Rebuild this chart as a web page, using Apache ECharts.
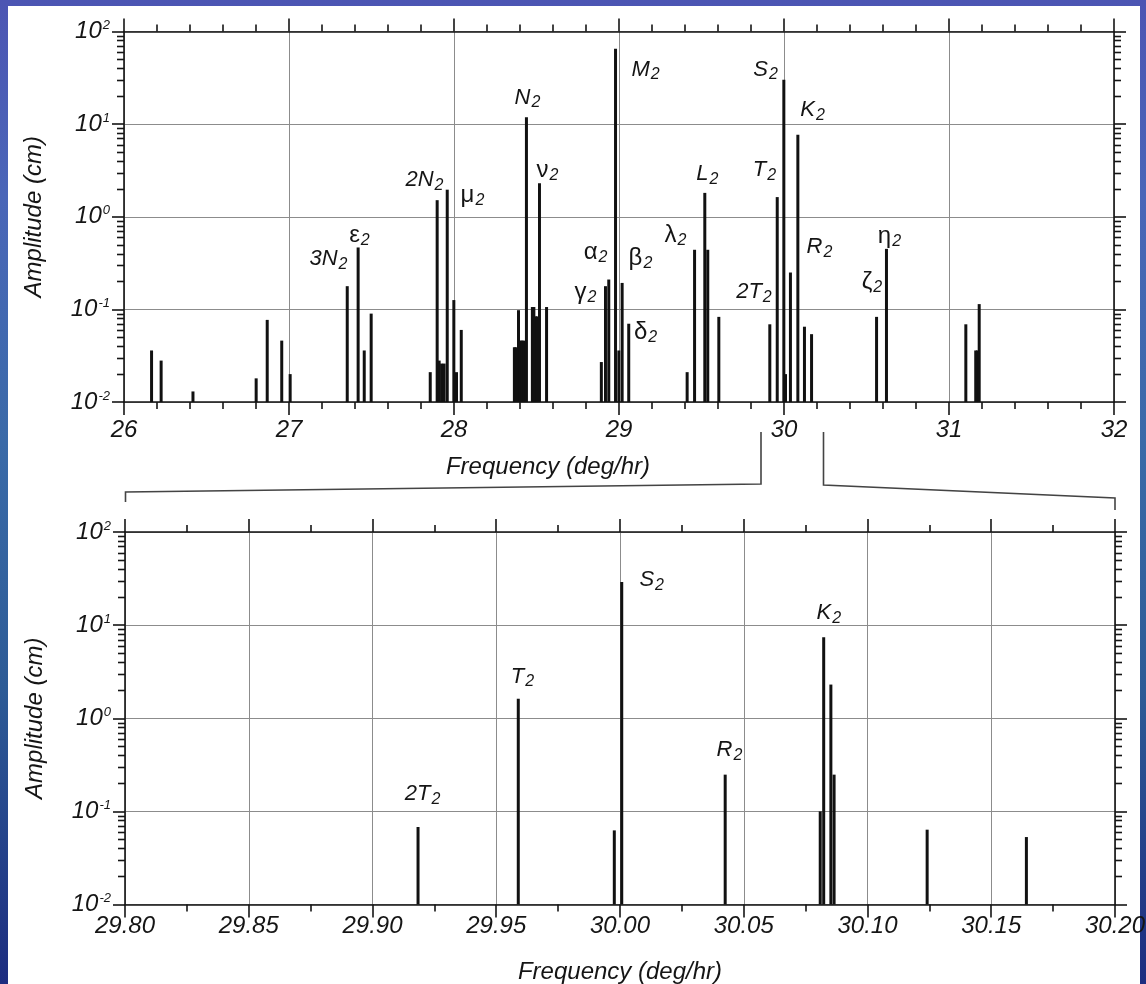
<!DOCTYPE html>
<html>
<head>
<meta charset="utf-8">
<script src="https://cdn.jsdelivr.net/npm/echarts@6/dist/echarts.min.js"></script>
<style>
html,body{margin:0;padding:0;width:1146px;height:984px;overflow:hidden;}
body{background:linear-gradient(180deg,#4c55b3 0%,#4a66b8 20%,#3a6aa8 45%,#2d5b96 70%,#1d2d80 100%);}
#panel{position:absolute;left:8px;top:6px;width:1132px;height:978px;background:#ffffff;}
#chart{position:absolute;left:0;top:0;width:1146px;height:984px;}
</style>
</head>
<body>
<div id="panel"></div>
<div id="chart"></div>
<script>
// ---------- data ----------
const topFreq = [26.167, 26.225, 26.418, 26.801, 26.868, 26.956, 27.007,
  27.353, 27.419, 27.456, 27.498, 27.856, 27.898, 27.910, 27.925, 27.940, 27.959, 27.999, 28.015, 28.044,
  28.366, 28.375, 28.391, 28.402, 28.412, 28.422, 28.439, 28.475, 28.484, 28.494, 28.504, 28.518, 28.561,
  28.893, 28.918, 28.938, 28.979, 28.999, 29.019, 29.059,
  29.413, 29.458, 29.520, 29.538, 29.605,
  29.914, 29.959, 29.999, 30.009, 30.039, 30.084, 30.124, 30.167,
  30.561, 30.621, 31.102, 31.162, 31.172, 31.183];
const topAmp = [0.036, 0.028, 0.013, 0.018, 0.077, 0.046, 0.020,
  0.178, 0.466, 0.036, 0.090, 0.021, 1.51, 0.028, 0.026, 0.026, 1.96, 0.126, 0.021, 0.060,
  0.039, 0.039, 0.098, 0.046, 0.046, 0.046, 11.9, 0.106, 0.106, 0.084, 0.084, 2.3, 0.106,
  0.027, 0.178, 0.21, 65, 0.036, 0.193, 0.070,
  0.021, 0.44, 1.81, 0.44, 0.083,
  0.069, 1.63, 30.1, 0.020, 0.25, 7.7, 0.065, 0.054,
  0.083, 0.45, 0.069, 0.036, 0.036, 0.114];

const bottomFreq = [29.9184, 29.9589, 29.9977, 30.0007, 30.0425, 30.0809, 30.0823, 30.0852, 30.0865, 30.1241, 30.1642];
const bottomAmp  = [0.068, 1.62, 0.0625, 29, 0.248, 0.10, 7.43, 2.3, 0.248, 0.0636, 0.053];

const topLabelNames = ['3N2','ε2','2N2','μ2','N2','ν2','α2','γ2','M2','β2','δ2','λ2','L2','2T2','T2','S2','K2','R2','ζ2','η2'];
const topLabelFreq  = [27.239, 27.427, 27.821, 28.112, 28.445, 28.567, 28.858, 28.797, 29.161, 29.130, 29.161, 29.342, 29.536, 29.818, 29.882, 29.888, 30.173, 30.215, 30.533, 30.639];
const topLabelAmp   = [0.348, 0.63, 2.48, 1.71, 19.4, 3.17, 0.414, 0.1535, 38.9, 0.357, 0.0569, 0.63, 2.87, 0.1535, 3.17, 38.9, 14.1, 0.469, 0.197, 0.616];

const bottomLabelNames = ['2T2','T2','S2','R2','K2'];
const bottomLabelFreq  = [29.9202, 29.9606, 30.0128, 30.0442, 30.0844];
const bottomLabelAmp   = [0.155, 2.81, 30.3, 0.461, 13.4];

// log-axis minor tick values (2..9 in each decade)
const logMinorTicks = [0.02,0.03,0.04,0.05,0.06,0.07,0.08,0.09,
  0.2,0.3,0.4,0.5,0.6,0.7,0.8,0.9, 2,3,4,5,6,7,8,9, 20,30,40,50,60,70,80,90];

const yMin = 0.01, yMax = 100;
const topXRange = [26, 32], topXStep = 1;
const bottomXRange = [29.80, 30.20], bottomXStep = 0.05;
const xName = 'Frequency (deg/hr)';
const yName = 'Amplitude (cm)';

// ---------- styling helpers ----------
const FONT = '"Liberation Sans", Arial, sans-serif';
const INK = '#151515';
const GRID = '#8c8c8c';

const yLabelRich = {
  b: {fontSize: 24, fontStyle: 'italic', fontFamily: FONT, color: INK},
  s: {fontSize: 13, fontStyle: 'italic', fontFamily: FONT, color: INK, padding: [0, 0, 12, 1]}
};
function logLabel(v) {
  const e = Math.round(Math.log10(v));
  return '{b|10}{s|' + (e < 0 ? '-' : '') + Math.abs(e) + '}';
}
const nameStyle = {fontSize: 24, fontStyle: 'italic', fontFamily: FONT, color: INK};

function makeY(gridIndex, right) {
  return {
    type: 'log', logBase: 10, min: yMin, max: yMax, gridIndex: gridIndex,
    position: right ? 'right' : 'left',
    axisLine: {show: true, lineStyle: {color: INK, width: 1.6}},
    axisTick: {show: true, inside: false, length: 12, lineStyle: {color: INK, width: 1.6}},
    minorTick: {show: false},
    axisLabel: {show: !right, formatter: logLabel, rich: yLabelRich, margin: 14},
    splitLine: {show: !right, lineStyle: {color: GRID, width: 1}},
    minorSplitLine: {show: false},
    name: right ? '' : yName, nameLocation: 'middle', nameGap: 78,
    nameTextStyle: nameStyle
  };
}
function makeX(gridIndex, range, step, minorSplit, decimals, onTop, nameGap, namePadRight, labelMargin) {
  return {
    type: 'value', gridIndex: gridIndex, min: range[0], max: range[1], interval: step,
    position: onTop ? 'top' : 'bottom',
    axisLine: {show: true, onZero: false, lineStyle: {color: INK, width: 1.6}},
    axisTick: {show: true, inside: false, length: 13, lineStyle: {color: INK, width: 1.6}},
    minorTick: {show: true, splitNumber: minorSplit, length: 7, lineStyle: {color: INK, width: 1.6}},
    axisLabel: {show: !onTop, margin: labelMargin, fontSize: 24, fontStyle: 'italic', fontFamily: FONT, color: INK,
      formatter: function (v) { return decimals ? v.toFixed(decimals) : String(Math.round(v)); }},
    splitLine: {show: !onTop, lineStyle: {color: GRID, width: 1}},
    name: onTop ? '' : xName, nameLocation: 'middle', nameGap: nameGap,
    nameTextStyle: Object.assign({padding: [0, namePadRight, 0, 0]}, nameStyle)
  };
}

function barSeries(xi, yi, freqs, amps) {
  return {
    type: 'custom', coordinateSystem: 'cartesian2d', xAxisIndex: xi, yAxisIndex: yi,
    data: freqs.map(function (f, i) { return [f, amps[i]]; }),
    encode: {x: 0, y: 1}, z: 5, silent: true,
    renderItem: function (params, api) {
      const f = api.value(0), v = api.value(1);
      const p = api.coord([f, v]);
      const b = api.coord([f, yMin]);
      return {type: 'rect', shape: {x: p[0] - 1.5, y: p[1], width: 3, height: b[1] - p[1]},
        style: {fill: '#111111'}};
    }
  };
}
// log minor ticks drawn on both sides of a grid, positioned by the y scale
function minorTickSeries(xi, yi, xStart) {
  return {
    type: 'custom', coordinateSystem: 'cartesian2d', xAxisIndex: xi, yAxisIndex: yi,
    data: logMinorTicks.map(function (v) { return [xStart, v]; }),
    encode: {x: 0, y: 1}, z: 4, silent: true, clip: false,
    renderItem: function (params, api) {
      const cs = params.coordSys;
      const p = api.coord([api.value(0), api.value(1)]);
      const y = Math.round(p[1]) + 0.5;
      const st = {stroke: INK, lineWidth: 1.6};
      return {type: 'group', children: [
        {type: 'line', shape: {x1: cs.x - 7, y1: y, x2: cs.x, y2: y}, style: st},
        {type: 'line', shape: {x1: cs.x + cs.width, y1: y, x2: cs.x + cs.width + 7, y2: y}, style: st}
      ]};
    }
  };
}
const greek = /[\u03b1-\u03c9]/;
const labelRich = {
  m: {fontSize: 22, fontStyle: 'italic', fontFamily: FONT, fill: INK},
  g: {fontSize: 24, fontStyle: 'normal', fontFamily: FONT, fill: INK},
  s: {fontSize: 16, fontStyle: 'italic', fontFamily: FONT, fill: INK, padding: [11, 0, 0, 1]}
};
function labelSeries(xi, yi, names, freqs, amps) {
  return {
    type: 'custom', coordinateSystem: 'cartesian2d', xAxisIndex: xi, yAxisIndex: yi,
    data: freqs.map(function (f, i) { return [f, amps[i]]; }),
    encode: {x: 0, y: 1}, z: 6, silent: true, clip: false,
    renderItem: function (params, api) {
      const p = api.coord([api.value(0), api.value(1)]);
      const n = names[params.dataIndex], main = n.slice(0, -1), sub = n.slice(-1);
      const txt = '{' + (greek.test(main) ? 'g' : 'm') + '|' + main + '}{s|' + sub + '}';
      return {type: 'text', x: p[0], y: p[1],
        style: {text: txt, rich: labelRich, fill: INK, align: 'center', verticalAlign: 'middle',
          fontSize: 22, fontFamily: FONT}};
    }
  };
}

const chart = echarts.init(document.getElementById('chart'), null, {renderer: 'canvas'});
chart.setOption({
  backgroundColor: 'transparent',
  animation: false,
  grid: [
    {left: 124, top: 31.5, width: 990, height: 370.5, containLabel: false, outerBoundsMode: 'none'},
    {left: 125, top: 532, width: 990, height: 372.5, containLabel: false, outerBoundsMode: 'none'}
  ],
  xAxis: [
    makeX(0, topXRange, topXStep, 5, 0, false, 53, 142, 16),
    makeX(0, topXRange, topXStep, 5, 0, true, 0, 0, 0),
    makeX(1, bottomXRange, bottomXStep, 2, 2, false, 56, 0, 10),
    makeX(1, bottomXRange, bottomXStep, 2, 2, true, 0, 0, 0)
  ],
  yAxis: [makeY(0, false), makeY(0, true), makeY(1, false), makeY(1, true)],
  series: [
    barSeries(0, 0, topFreq, topAmp),
    barSeries(2, 2, bottomFreq, bottomAmp),
    minorTickSeries(0, 0, topXRange[0]),
    minorTickSeries(2, 2, bottomXRange[0]),
    labelSeries(0, 0, topLabelNames, topLabelFreq, topLabelAmp),
    labelSeries(2, 2, bottomLabelNames, bottomLabelFreq, bottomLabelAmp)
  ],
  graphic: [
    {type: 'polyline', silent: true, shape: {points: [[761, 432], [761, 484], [125.5, 492], [125.5, 502]]},
      style: {stroke: '#444', lineWidth: 1.6, fill: null}},
    {type: 'polyline', silent: true, shape: {points: [[823.5, 432], [823.5, 485], [1115, 498], [1115, 510]]},
      style: {stroke: '#444', lineWidth: 1.6, fill: null}}
  ]
});
</script>
</body>
</html>
